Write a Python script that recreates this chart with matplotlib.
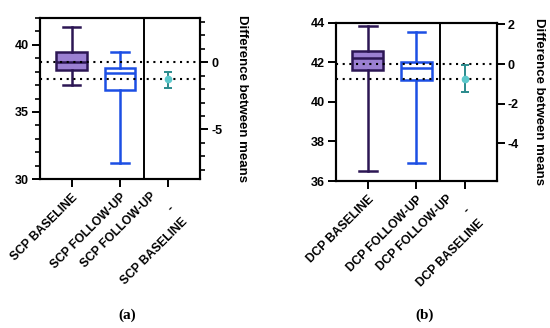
import numpy as np
import matplotlib
matplotlib.use('Agg')
import matplotlib.pyplot as plt
from matplotlib.ticker import FixedLocator

plt.rcParams['font.family'] = ['Liberation Sans', 'DejaVu Sans']
plt.rcParams['font.weight'] = 'bold'
plt.rcParams['axes.unicode_minus'] = False

# panel (a) - SCP
scp_labels = ['SCP BASELINE', 'SCP FOLLOW-UP']
scp_diff_label = ['SCP FOLLOW-UP', '-', 'SCP BASELINE']
scp_whislo = [37.0, 31.2]
scp_q1 = [38.15, 36.6]
scp_med = [38.7, 37.9]
scp_q3 = [39.45, 38.3]
scp_whishi = [41.3, 39.5]
scp_base_mean = 38.7
scp_diff = -1.25
scp_diff_ci = [-1.9, -0.7]

# panel (b) - DCP
dcp_labels = ['DCP BASELINE', 'DCP FOLLOW-UP']
dcp_diff_label = ['DCP FOLLOW-UP', '-', 'DCP BASELINE']
dcp_whislo = [36.5, 36.9]
dcp_q1 = [41.6, 41.1]
dcp_med = [42.2, 41.7]
dcp_q3 = [42.55, 42.0]
dcp_whishi = [43.8, 43.5]
dcp_base_mean = 41.9
dcp_diff = -0.76
dcp_diff_ci = [-1.41, -0.07]

BASE_FACE = '#9b80d2'
BASE_EDGE = '#2c1654'
FU_EDGE = '#1c4fe4'
DIFF_FACE = '#5cc8cb'
DIFF_EDGE = '#2a8a8c'

W, H = 550, 328
LABEL_FS = 8.7
# offsets (points) of the three lines of the difference label
DIFF_OFFS = [(-9.9, -11.4), (2.7, -19.9), (12.4, -29.4)]


def draw_panel(fig, px, labels, diff_label, whislo, q1, med, q3, whishi, base_mean,
               diff, diff_ci, ylim, lmajor, lminor, rmajor, rminor, caption, cap_x):
    l, r, t, b = px
    ax = fig.add_axes([l / W, 1 - b / H, (r - l) / W, (b - t) / H])
    stats = []
    for i in range(2):
        stats.append(dict(whislo=whislo[i], q1=q1[i], med=med[i], q3=q3[i],
                          whishi=whishi[i], fliers=[]))
    bp = ax.bxp(stats, positions=[0, 1], widths=0.64, capwidths=0.36,
                patch_artist=True, showfliers=False)
    cols = [(BASE_FACE, BASE_EDGE), ('white', FU_EDGE)]
    for i, (fc, ec) in enumerate(cols):
        bp['boxes'][i].set(facecolor=fc, edgecolor=ec, linewidth=1.8)
        bp['medians'][i].set(color=ec, linewidth=1.8)
        for k in (2 * i, 2 * i + 1):
            bp['whiskers'][k].set(color=ec, linewidth=1.8)
            bp['caps'][k].set(color=ec, linewidth=1.8)

    ax.set_xlim(-0.66, 2.66)
    ax.set_ylim(*ylim)
    ax.axvline(1.49, color='black', lw=1.4)
    ax.set_xticks([0, 1, 2])
    ax.set_xticklabels(labels + [''], rotation=45, ha='right', va='top',
                       rotation_mode='anchor', fontsize=LABEL_FS)
    for line, (dx, dy) in zip(diff_label, DIFF_OFFS):
        ax.annotate(line, xy=(2, 0), xycoords=('data', 'axes fraction'),
                    xytext=(dx, dy), textcoords='offset points', rotation=45,
                    ha='right', va='center', rotation_mode='anchor',
                    fontsize=LABEL_FS, annotation_clip=False)
    ax.yaxis.set_major_locator(FixedLocator(lmajor))
    if lminor is not None:
        ax.yaxis.set_minor_locator(FixedLocator(lminor))
    ax.tick_params(axis='y', labelsize=9, width=1.4, length=6, pad=2)
    ax.tick_params(axis='y', which='minor', width=1.2, length=3.5)
    ax.tick_params(axis='x', width=1.4, length=6, pad=3)
    for s in ax.spines.values():
        s.set_linewidth(1.5)

    ax2 = ax.twinx()
    ax2.set_ylim(ylim[0] - base_mean, ylim[1] - base_mean)
    ax2.axhline(0, color='black', ls=(0, (1, 2.2)), lw=1.5)
    ax2.axhline(diff, color='black', ls=(0, (1, 2.2)), lw=1.5)
    ax2.errorbar([2], [diff], yerr=[[diff - diff_ci[0]], [diff_ci[1] - diff]],
                 fmt='o', color=DIFF_EDGE, mfc=DIFF_FACE, mec=DIFF_FACE,
                 ms=4.5, capsize=3, elinewidth=1.4, capthick=1.4, zorder=5)
    ax2.yaxis.set_major_locator(FixedLocator(rmajor))
    if rminor is not None:
        ax2.yaxis.set_minor_locator(FixedLocator(rminor))
    ax2.tick_params(axis='y', labelsize=9, width=1.4, length=6, pad=2)
    ax2.tick_params(axis='y', which='minor', width=1.2, length=3.5)
    for s in ax2.spines.values():
        s.set_linewidth(1.5)
    ax2.set_ylabel('Difference between means', rotation=-90, fontsize=9.5,
                   fontweight='bold', labelpad=10, va='bottom')

    fig.text(cap_x / W, 1 - 315 / H, caption, ha='center', va='center',
             family=['Liberation Serif', 'DejaVu Serif'], fontsize=11,
             weight='bold')
    return ax, ax2


fig = plt.figure(figsize=(5.5, 3.28), dpi=100)

draw_panel(fig, (40, 200, 18, 179), scp_labels, scp_diff_label, scp_whislo,
           scp_q1, scp_med, scp_q3, scp_whishi, scp_base_mean, scp_diff,
           scp_diff_ci, (30, 42), [30, 35, 40], list(range(30, 43)),
           [0, -5], list(range(-8, 4)), '(a)', 127)

draw_panel(fig, (336, 496.7, 22.5, 181), dcp_labels, dcp_diff_label, dcp_whislo,
           dcp_q1, dcp_med, dcp_q3, dcp_whishi, dcp_base_mean, dcp_diff,
           dcp_diff_ci, (36, 44), [36, 38, 40, 42, 44], None,
           [2, 0, -2, -4], None, '(b)', 425)

fig.savefig('out.png', dpi=100)
